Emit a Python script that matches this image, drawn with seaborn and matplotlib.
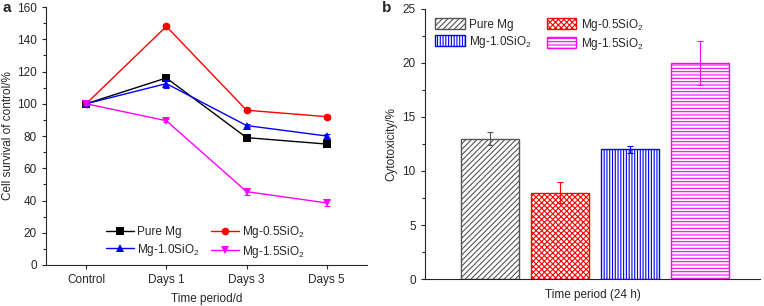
import numpy as np
import pandas as pd
import matplotlib
matplotlib.use("Agg")
from matplotlib import pyplot as plt
from matplotlib.ticker import MultipleLocator
from matplotlib.patches import Patch
import seaborn as sns

sns.set_style("ticks")
plt.rcParams['font.family'] = ['Liberation Sans', 'DejaVu Sans']
plt.rcParams['mathtext.default'] = 'regular'
plt.rcParams['hatch.linewidth'] = 0.8

# data
days = ["Control", "Days 1", "Days 3", "Days 5"]
groups = ["Pure Mg", "Mg-0.5SiO$_2$", "Mg-1.0SiO$_2$", "Mg-1.5SiO$_2$"]
colors = ["black", "red", "blue", "magenta"]
markers = ["s", "o", "^", "v"]
surv_pure = [100, 116, 79, 75]
surv_05 = [100, 148, 96, 92]
surv_10 = [100, 112.5, 86.5, 80]
surv_15 = [100, 89.5, 45.5, 38.5]
err_pure = [1, 2, 1.2, 1.5]
err_05 = [1, 1.5, 1, 1.2]
err_10 = [1, 2.5, 1, 1.5]
err_15 = [1, 1, 2, 2]
cyto = [13, 8, 12, 20]
cyto_err = [0.6, 1.0, 0.3, 2.0]
hatches = ["//////", "xxxxxx", "||||||", "-----"]
edge_cols = ["#555555", "red", "blue", "magenta"]

# legend order: fill rows (matplotlib fills columns)
order = [0, 2, 1, 3]

fig = plt.figure(figsize=(7.64, 3.06), dpi=100)
ax1 = fig.add_axes([0.0602, 0.134, 0.420, 0.843])
ax2 = fig.add_axes([0.556, 0.088, 0.439, 0.883])

# panel a
surv = [surv_pure, surv_05, surv_10, surv_15]
errs = [err_pure, err_05, err_10, err_15]
df = pd.DataFrame({
    "day": np.tile(np.arange(4), 4),
    "val": np.concatenate(surv),
    "grp": np.repeat(groups, 4),
})
sns.lineplot(data=df, x="day", y="val", hue="grp", style="grp",
             palette=colors, markers=markers, dashes=False, ax=ax1,
             markersize=5.5, markeredgewidth=0, linewidth=1)
for s, e, c in zip(surv, errs, colors):
    ax1.errorbar(range(4), s, yerr=e, fmt="none", ecolor=c, elinewidth=0.8,
                 capsize=2.5, capthick=0.8)
ax1.set_xlim(-0.5, 3.5)
ax1.set_ylim(0, 160)
ax1.set_xticks(range(4))
ax1.set_xticklabels(days)
ax1.yaxis.set_major_locator(MultipleLocator(20))
ax1.yaxis.set_minor_locator(MultipleLocator(10))
ax1.set_xlabel("Time period/d", fontsize=8.5, labelpad=5)
ax1.set_ylabel("Cell survival of control/%", fontsize=8.5, labelpad=2)
ax1.tick_params(labelsize=8.5, length=3, width=0.8)
ax1.tick_params(which="minor", length=2, width=0.8)
sns.despine(ax=ax1)
h, l = ax1.get_legend_handles_labels()
ax1.legend([h[i] for i in order], [l[i] for i in order], ncol=2,
           frameon=False, fontsize=8.5, loc="lower left",
           bbox_to_anchor=(0.155, -0.02), columnspacing=1.0, handlelength=2.3,
           handletextpad=0.3, labelspacing=0.3)

# panel b
dfb = pd.DataFrame({"grp": groups, "val": cyto})
sns.barplot(data=dfb, x="grp", y="val", ax=ax2, color="white", width=0.83,
            linewidth=1)
for bar, hch, ec in zip(ax2.patches, hatches, edge_cols):
    bar.set_hatch(hch)
    bar.set_edgecolor(ec)
    bar.set_facecolor("white")
for i in range(4):
    ax2.errorbar(i, cyto[i], yerr=cyto_err[i], fmt="none", ecolor=edge_cols[i],
                 elinewidth=0.8, capsize=2.5, capthick=0.8)
ax2.set_xlim(-0.93, 3.86)
ax2.set_ylim(0, 25)
ax2.set_xticks([])
ax2.yaxis.set_major_locator(MultipleLocator(5))
ax2.yaxis.set_minor_locator(MultipleLocator(2.5))
ax2.set_xlabel("Time period (24 h)", fontsize=8.5, labelpad=7)
ax2.set_ylabel("Cytotoxicity/%", fontsize=8.5, labelpad=4)
ax2.tick_params(labelsize=8.5, length=3, width=0.8)
ax2.tick_params(which="minor", length=2, width=0.8)
sns.despine(ax=ax2)
handles = [Patch(facecolor="white", edgecolor=ec, hatch=hc)
           for ec, hc in zip(edge_cols, hatches)]
ax2.legend([handles[i] for i in order], [groups[i] for i in order], ncol=2,
           frameon=False, fontsize=8.5, loc="upper left",
           bbox_to_anchor=(0.0, 1.01), handlelength=2.5, handleheight=1.1,
           handletextpad=0.35, columnspacing=1.3, labelspacing=0.25)

fig.text(0.003, 0.975, "a", fontsize=11, fontweight="bold", va="center")
fig.text(0.500, 0.975, "b", fontsize=11, fontweight="bold", va="center")

fig.savefig("out.png", dpi=100)
